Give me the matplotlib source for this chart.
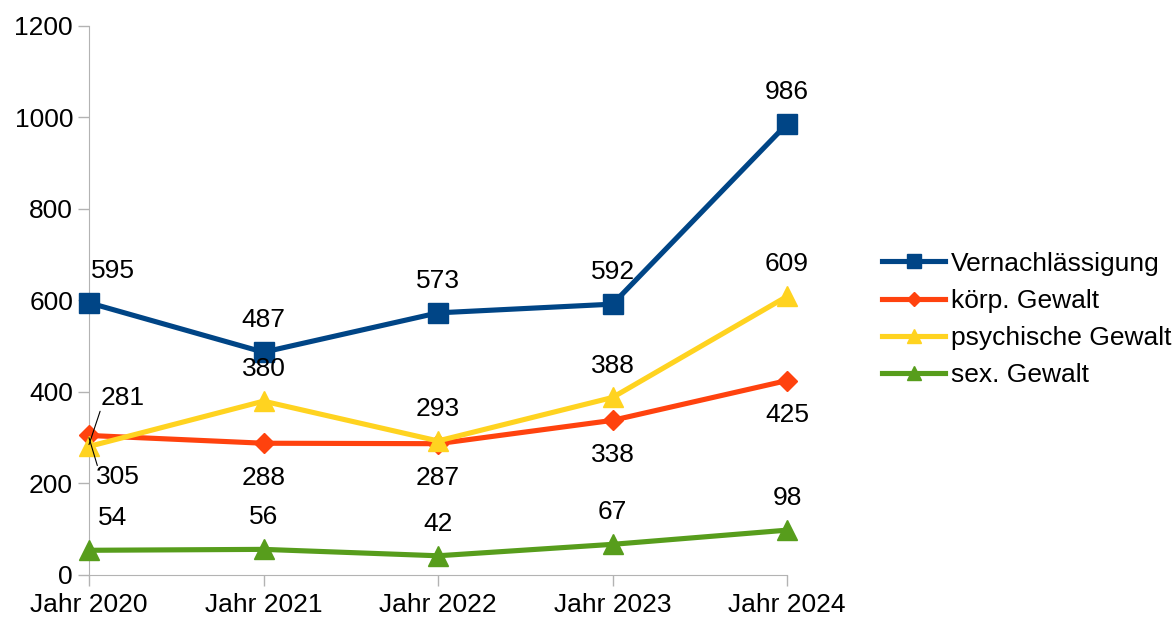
import matplotlib.pyplot as plt

plt.rcParams['font.family'] = ['Liberation Sans', 'DejaVu Sans']

years = ['Jahr 2020', 'Jahr 2021', 'Jahr 2022', 'Jahr 2023', 'Jahr 2024']
vernachlaessigung = [595, 487, 573, 592, 986]
koerp_gewalt = [305, 288, 287, 338, 425]
psych_gewalt = [281, 380, 293, 388, 609]
sex_gewalt = [54, 56, 42, 67, 98]

series = [
    ('Vernachlässigung', vernachlaessigung, '#004586', 's', 14),
    ('körp. Gewalt', koerp_gewalt, '#ff420e', 'D', 10),
    ('psychische Gewalt', psych_gewalt, '#ffd320', '^', 15),
    ('sex. Gewalt', sex_gewalt, '#579d1c', '^', 15),
]
# label placement per series: +1 above, -1 below
place = [1, -1, 1, 1]

fig = plt.figure(figsize=(11.74, 6.19), dpi=100)
ax = fig.add_axes([0.0758, 0.0711, 0.5946, 0.8869])
x = list(range(len(years)))

for k, ((name, vals, col, mk, ms), p) in enumerate(zip(series, place)):
    ax.plot(x, vals, color=col, lw=3.7, marker=mk, markersize=ms, label=name, clip_on=False, zorder=3)
    for i, v in enumerate(vals):
        dx = 0
        dy = 23 if p > 0 else -25
        if i == 0:
            dx = 17
            if k == 1:   # 305, pushed down
                dx, dy = 21, -30
            if k == 2:   # 281, pushed up
                dx, dy = 24, 35
        ax.annotate(str(v), (i, v), xytext=(dx, dy), textcoords='offset points',
                    ha='center', va='center', fontsize=19, zorder=5)

# leader lines at 2020 for the overlapping points
ax.annotate('', (0, 285), xytext=(8, 24), textcoords='offset points',
            arrowprops=dict(arrowstyle='-', color='black', lw=0.8, shrinkA=0, shrinkB=0))
ax.annotate('', (0, 300), xytext=(6, -20), textcoords='offset points',
            arrowprops=dict(arrowstyle='-', color='black', lw=0.8, shrinkA=0, shrinkB=0))

ax.set_xlim(0, 4)
ax.set_ylim(0, 1200)
ax.set_yticks(range(0, 1201, 200))
ax.set_xticks(x)
ax.set_xticklabels(years)
for s in ['top', 'right']:
    ax.spines[s].set_visible(False)
for s in ['left', 'bottom']:
    ax.spines[s].set_color('#b3b3b3')
ax.tick_params(colors='#b3b3b3', labelcolor='black', labelsize=19, length=8, width=1)
ax.tick_params(axis='x', pad=5)

fig.legend(loc='center left', bbox_to_anchor=(0.731, 0.484), frameon=False, fontsize=19,
           handlelength=2.4, handletextpad=0.2, labelspacing=0.5, markerscale=0.7)

fig.savefig('out.png', dpi=100)
